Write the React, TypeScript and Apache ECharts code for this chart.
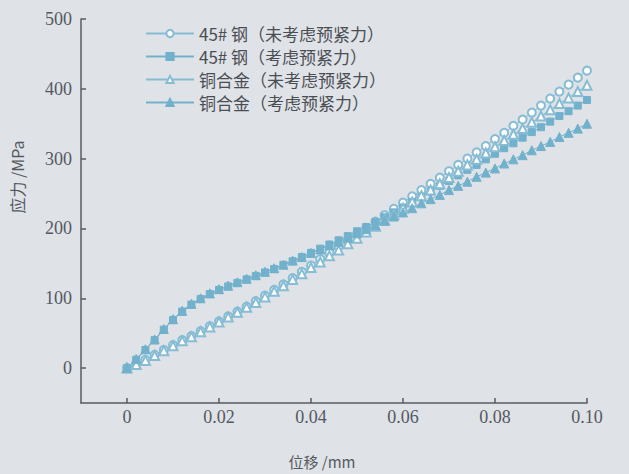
import React, { useEffect, useRef } from "react";
import * as echarts from "echarts";

const xValues = [
  0, 0.002, 0.004, 0.006, 0.008, 0.01, 0.012, 0.014, 0.016, 0.018, 0.02,
  0.022, 0.024, 0.026, 0.028, 0.03, 0.032, 0.034, 0.036, 0.038, 0.04,
  0.042, 0.044, 0.046, 0.048, 0.05, 0.052, 0.054, 0.056, 0.058, 0.06,
  0.062, 0.064, 0.066, 0.068, 0.07, 0.072, 0.074, 0.076, 0.078, 0.08,
  0.082, 0.084, 0.086, 0.088, 0.09, 0.092, 0.094, 0.096, 0.098, 0.1,
];

const steelNoPreload = [
  0, 6, 12, 19, 26, 33, 40, 46, 53, 60, 67,
  74, 81, 88, 96, 104, 112, 120, 129, 138, 147,
  156, 165, 174, 183, 192, 201, 210, 219, 228, 237,
  246, 255, 264, 273, 282, 291, 300, 309, 318, 328,
  337, 347, 356, 366, 376, 386, 396, 406, 416, 426,
];

const steelPreload = [
  0, 12, 26, 40, 55, 69, 81, 91, 99, 106, 112,
  117, 122, 127, 132, 137, 142, 148, 153, 159, 165,
  171, 177, 183, 189, 196, 202, 209, 216, 223, 230,
  238, 245, 253, 261, 268, 276, 284, 291, 299, 307,
  315, 322, 330, 338, 345, 353, 361, 368, 376, 384,
];

const copperNoPreload = [
  0, 5, 11, 18, 25, 32, 39, 45, 52, 59, 66,
  73, 80, 87, 94, 102, 110, 118, 127, 135, 144,
  152, 161, 169, 178, 186, 195, 203, 212, 220, 229,
  238, 247, 255, 264, 273, 282, 291, 299, 308, 317,
  326, 335, 343, 352, 361, 370, 379, 387, 396, 405,
];

const copperPreload = [
  0, 13, 27, 41, 56, 70, 82, 92, 100, 107, 113,
  118, 123, 128, 133, 138, 143, 148, 154, 159, 165,
  170, 176, 181, 187, 193, 199, 205, 211, 217, 223,
  229, 236, 242, 248, 255, 261, 267, 274, 280, 286,
  293, 299, 305, 312, 318, 324, 331, 337, 343, 350,
];

const seriesNames = [
  "45# 钢（未考虑预紧力）",
  "45# 钢（考虑预紧力）",
  "铜合金（未考虑预紧力）",
  "铜合金（考虑预紧力）",
];

const xTicks = [0, 0.02, 0.04, 0.06, 0.08, 0.1];
const yTicks = [0, 100, 200, 300, 400, 500];

const BG = "#dfe2e7";
const AXIS = "#5b5b5e";
const TEXT = "#55595f";
const FILL = "#72b1cc";
const HOLLOW = "#86bcd4";

export default function App() {
  const ref = useRef<HTMLDivElement>(null);

  useEffect(() => {
    if (!ref.current) return;
    const chart = echarts.init(ref.current, undefined, { renderer: "svg" });
    const pair = (ys: number[]) => xValues.map((x, i) => [x, ys[i]]);
    const mk = (
      name: string,
      ys: number[],
      symbol: string,
      color: string,
      size: number
    ) => ({
      name,
      type: "line",
      data: pair(ys),
      symbol,
      symbolSize: size,
      showAllSymbol: true,
      lineStyle: { color, width: 1 },
      itemStyle: { color, borderColor: color, borderWidth: 1 },
      z: 3,
    });

    chart.setOption({
      animation: false,
      backgroundColor: BG,
      grid: { left: 81, right: 42, top: 19, bottom: 71, containLabel: false },
      legend: {
        orient: "vertical",
        left: 140,
        top: 20,
        itemWidth: 48,
        itemHeight: 9,
        itemGap: 6,
        textStyle: {
          fontFamily: "Noto Sans CJK SC",
          fontSize: 17,
          color: "#4a4e53",
        },
        data: seriesNames,
      },
      xAxis: {
        type: "value",
        min: -0.01,
        max: 0.1,
        axisLine: { show: true, onZero: false, lineStyle: { color: AXIS, width: 1.5 } },
        axisTick: {
          show: true,
          inside: true,
          length: 5,
          customValues: xTicks,
          lineStyle: { color: AXIS, width: 1.5 },
        },
        axisLabel: {
          customValues: xTicks,
          formatter: (v: number) => (v === 0 ? "0" : v.toFixed(2)),
          fontFamily: "Liberation Serif",
          fontSize: 18,
          color: TEXT,
          margin: 5,
        },
        splitLine: { show: false },
      },
      yAxis: {
        type: "value",
        min: -50,
        max: 500,
        axisLine: { show: true, onZero: false, lineStyle: { color: AXIS, width: 1.5 } },
        axisTick: {
          show: true,
          inside: true,
          length: 5,
          customValues: yTicks,
          lineStyle: { color: AXIS, width: 1.5 },
        },
        axisLabel: {
          customValues: yTicks,
          fontFamily: "Liberation Serif",
          fontSize: 18,
          color: TEXT,
          margin: 9,
        },
        splitLine: { show: false },
      },
      graphic: [
        {
          type: "text",
          x: 17,
          y: 177,
          rotation: Math.PI / 2,
          style: {
            text: "应力 /MPa",
            fontFamily: "Noto Sans CJK SC",
            fontSize: 16,
            fill: TEXT,
            textAlign: "center",
            textVerticalAlign: "middle",
          },
        },
        {
          type: "text",
          x: 322,
          y: 461,
          style: {
            text: "位移 /mm",
            fontFamily: "Noto Sans CJK SC",
            fontSize: 15,
            fill: TEXT,
            textAlign: "center",
            textVerticalAlign: "middle",
          },
        },
      ],
      series: [
        mk(seriesNames[0], steelNoPreload, "emptyCircle", HOLLOW, 8),
        mk(seriesNames[1], steelPreload, "rect", FILL, 7),
        mk(seriesNames[2], copperNoPreload, "emptyTriangle", HOLLOW, 9),
        mk(seriesNames[3], copperPreload, "triangle", FILL, 9),
      ],
    });
    return () => chart.dispose();
  }, []);

  return (
    <div
      ref={ref}
      style={{
        position: "fixed",
        left: 0,
        top: 0,
        width: 629,
        height: 474,
        background: BG,
      }}
    />
  );
}
